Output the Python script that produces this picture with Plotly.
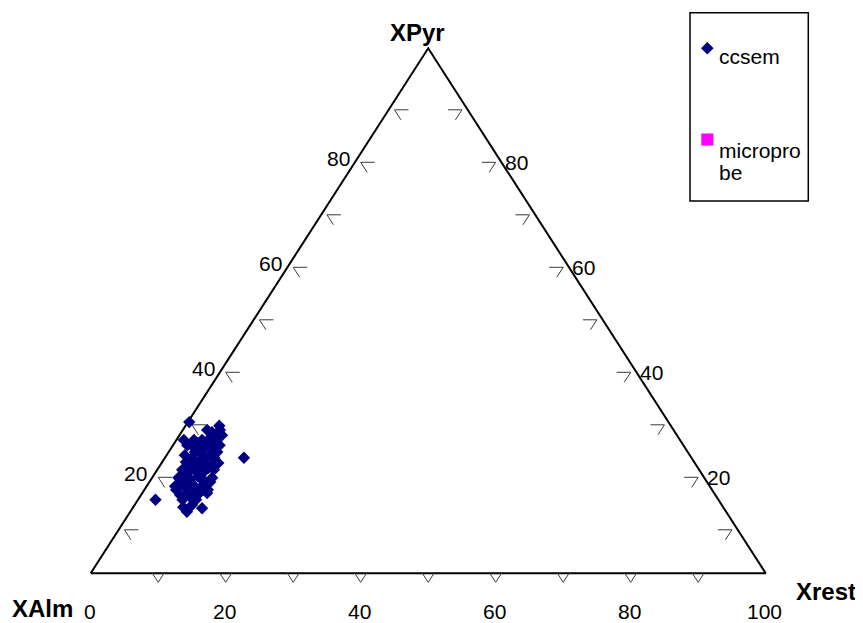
import plotly.graph_objects as go

# ---------------- data (percent) ----------------
XPyr = [28.8, 28.1, 26.3, 27.3, 25.0, 22.0, 24.4, 24.8, 14.0, 12.6,
        12.4, 11.7, 15.9, 17.8, 15.3, 14.9, 14.5, 21.0, 22.5, 23.1,
        23.9, 22.5, 21.6, 20.6, 19.7, 19.7, 20.1, 21.2, 18.2, 17.8,
        18.2, 18.2, 16.6, 16.3, 16.6, 16.8, 14.9, 13.0, 17.8, 25.8,
        23.9, 24.4, 25.4, 22.0, 21.2, 20.4, 19.7, 22.0, 19.3, 19.7,
        14.0, 14.0, 25.4, 24.1, 26.9, 23.1, 15.9, 16.3, 15.5, 17.2,
        23.5, 24.4, 21.2, 19.3, 16.8, 17.4, 15.5, 22.0, 20.8, 18.5,
        18.5, 17.0, 22.7, 25.4, 25.8, 27.3]
Xrest = [0.2, 5.0, 6.3, 3.6, 5.9, 11.7, 2.1, 3.5, 2.6, 7.4,
         10.3, 8.4, 4.7, 4.8, 9.6, 8.4, 7.5, 8.4, 2.7, 3.9,
         5.0, 6.4, 5.4, 4.4, 3.7, 5.6, 7.4, 7.8, 3.9, 5.8,
         7.1, 8.9, 4.2, 5.9, 7.1, 8.5, 5.8, 8.5, 7.8, 4.8,
         6.2, 6.9, 3.8, 4.0, 3.5, 5.7, 8.4, 6.0, 4.9, 6.4,
         6.6, 8.6, 1.1, 3.1, 4.5, 7.2, 9.4, 8.1, 7.4, 5.5,
         4.5, 5.2, 5.0, 7.1, 6.6, 9.0, 6.7, 7.3, 6.7, 6.6,
         4.9, 4.7, 5.1, 2.6, 5.7, 5.5]
series_names = ["ccsem", "micropro", "be"]
axis_titles = ["XAlm", "XPyr", "Xrest"]
tick_values = [10, 20, 30, 40, 50, 60, 70, 80, 90]
bottom_labels = [0, 20, 40, 60, 80, 100]
side_labels = [20, 40, 60, 80]

# ---------------- geometry helpers ----------------
W, H = 863, 623
PAGE = 8                         # page body margin of the html page
X0_PX, Y0_PX = 90.7 - PAGE, 573.3 - PAGE   # pixel position of the XAlm corner
SX, SY = 6.75, 5.25             # pixels per percent (horizontal / vertical)

def to_xy(pyr, rest):
    """ternary (XPyr, Xrest) -> cartesian (bottom position, height)"""
    return rest + pyr / 2.0, pyr

def off(x, y, dxp, dyp):
    """shift a data point by a pixel offset (screen coords, y down)"""
    return x + dxp / SX, y - dyp / SY

FONT = "Liberation Sans, Arial, sans-serif"

fig = go.Figure()

# triangle outline from the three pure end-members
corners = [(0, 0), (0, 100), (100, 0), (0, 0)]  # (XPyr, Xrest)
tx, ty = zip(*[to_xy(p, r) for p, r in corners])
fig.add_trace(go.Scatter(x=tx, y=ty, mode="lines",
                         line=dict(color="black", width=2),
                         hoverinfo="skip", showlegend=False))

# tick marks
kx, ky = [], []
for v in tick_values:
    bx, by = to_xy(0, v)
    vx, vy = off(bx, by, 0, 9)
    for (a, b) in [(-6, -9.25), (0, 0), (6, -9.25)]:
        px, py = off(vx, vy, a, b); kx.append(px); ky.append(py)
    kx.append(None); ky.append(None)
    lx, ly = to_xy(v, 0)
    vx, vy = off(lx, ly, 0, 9)
    for (a, b) in [(14, 0), (0, 0), (6.5, 10)]:
        px, py = off(vx, vy, a, b); kx.append(px); ky.append(py)
    kx.append(None); ky.append(None)
    rx, ry = to_xy(v, 100 - v)
    vx, vy = off(rx, ry, 0, 9)
    for (a, b) in [(-14, 0), (0, 0), (-6.5, 10)]:
        px, py = off(vx, vy, a, b); kx.append(px); ky.append(py)
    kx.append(None); ky.append(None)
fig.add_trace(go.Scatter(x=kx, y=ky, mode="lines",
                         line=dict(color="#3a3a3a", width=1),
                         hoverinfo="skip", showlegend=False))

# data points
dx, dy = zip(*[to_xy(p, r) for p, r in zip(XPyr, Xrest)])
fig.add_trace(go.Scatter(x=dx, y=dy, mode="markers", name="ccsem",
                         marker=dict(symbol="diamond", size=9.5, color="#000080",
                                     line=dict(width=0)),
                         showlegend=False))

ann = []
for v in bottom_labels:
    x, y = to_xy(0, v)
    ann.append(dict(x=x, y=y, text=str(v), xanchor="center", yanchor="middle",
                    xshift=-1, yshift=-37.7, font=dict(size=21)))
for v in side_labels:
    x, y = to_xy(v, 0)
    ann.append(dict(x=x, y=y, text=str(v), xanchor="right", yanchor="middle",
                    xshift=-9, yshift=-5, font=dict(size=21)))
    x, y = to_xy(v, 100 - v)
    ann.append(dict(x=x, y=y, text=str(v), xanchor="left", yanchor="middle",
                    xshift=7, yshift=-9, font=dict(size=21)))

# corner titles
x, y = to_xy(0, 0)
ann.append(dict(x=x, y=y, text="<b>%s</b>" % axis_titles[0], xanchor="right",
                yanchor="middle", xshift=-15.7, yshift=-35.2, font=dict(size=24)))
x, y = to_xy(100, 0)
ann.append(dict(x=x, y=y, text="<b>%s</b>" % axis_titles[1], xanchor="center",
                yanchor="middle", xshift=-10.7, yshift=15.3, font=dict(size=24)))
x, y = to_xy(0, 100)
ann.append(dict(x=x, y=y, text="<b>%s</b>" % axis_titles[2], xanchor="left",
                yanchor="middle", xshift=28.3, yshift=-18.2, font=dict(size=24)))
for a in ann:
    a.update(xref="x", yref="y", showarrow=False)
    a["font"].update(family=FONT, color="black")

# manual legend (pixel layout -> paper coords)
def pxx(p): return (p - PAGE) / W
def pxy(p): return 1 - (p - PAGE) / H

shapes = [
    dict(type="rect", xref="paper", yref="paper", x0=pxx(690), x1=pxx(808.3),
         y0=pxy(201), y1=pxy(12.7), line=dict(color="black", width=1.5)),
    dict(type="path", xref="paper", yref="paper",
         path="M %f %f L %f %f L %f %f L %f %f Z" % (
             pxx(707.3), pxy(42.0), pxx(713.6), pxy(48.3),
             pxx(707.3), pxy(54.6), pxx(701.0), pxy(48.3)),
         fillcolor="#000080", line=dict(width=0)),
    dict(type="rect", xref="paper", yref="paper", x0=pxx(701.3), x1=pxx(713.4),
         y0=pxy(145.6), y1=pxy(133.5), fillcolor="#FF00FF", line=dict(width=0)),
]
leg_y = [57, 150.7, 172.7]
for t, yc in zip(series_names, leg_y):
    ann.append(dict(xref="paper", yref="paper", x=pxx(717.0), y=pxy(yc), text=t,
                    xanchor="left", yanchor="middle", showarrow=False,
                    font=dict(family=FONT, size=21, color="black")))

fig.update_layout(
    width=W, height=H, margin=dict(l=0, r=0, t=0, b=0),
    paper_bgcolor="white", plot_bgcolor="white",
    xaxis=dict(range=[-X0_PX / SX, (W - X0_PX) / SX], visible=False, fixedrange=True),
    yaxis=dict(range=[(Y0_PX - H) / SY, Y0_PX / SY], visible=False, fixedrange=True),
    annotations=ann, shapes=shapes, showlegend=False,
)
fig.write_html("out.html")
